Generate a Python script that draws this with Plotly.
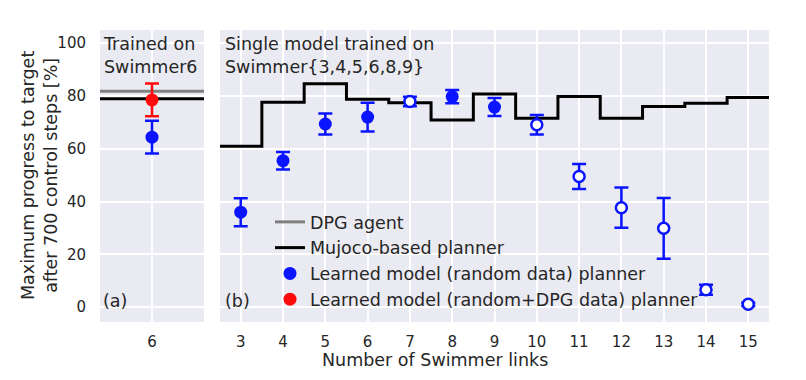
import plotly.graph_objects as go

# ---------------- data ----------------
links = [3, 4, 5, 6, 7, 8, 9, 10, 11, 12, 13, 14, 15]
mujoco_planner = [61.0, 77.6, 84.6, 78.8, 77.4, 70.9, 80.8, 71.6, 79.8, 71.6, 76.0, 77.3, 79.4]
learned_random_mean = [36.0, 55.5, 69.4, 72.0, 77.9, 79.8, 75.8, 69.1, 49.5, 37.7, 29.9, 6.6, 1.1]
learned_random_err = [5.3, 3.3, 4.0, 5.4, 1.8, 2.5, 3.4, 3.7, 4.7, 7.6, 11.5, 1.9, 0.6]
trained_links = [3, 4, 5, 6, 8, 9]

s6_x = [6]
s6_dpg_agent = 81.8
s6_mujoco_planner = 79.0
s6_learned_random = [64.4]
s6_learned_random_err = [6.2]
s6_learned_dpg = [78.5]
s6_learned_dpg_err = [6.2]

y_ticks = [0, 20, 40, 60, 80, 100]

# ---------------- style ----------------
FONT = "DejaVu Sans"
TXT = "#262626"
BG = "#EAEAF2"
BLUE = "#0a14ff"
RED = "#ff0a0a"
W, H = 806, 380
FS = 17.5

y_range = [-5.6, 105]
x1_range = [5.5, 6.5]
x2_range = [links[0] - 0.49, links[-1] + 0.49]

fig = go.Figure()

# ----- panel (a) -----
fig.add_trace(go.Scatter(
    x=x1_range, y=[s6_dpg_agent] * 2, mode="lines",
    line=dict(color="#808080", width=3), name="DPG agent",
    xaxis="x", yaxis="y", legendgroup="g1", legendrank=1))
fig.add_trace(go.Scatter(
    x=x1_range, y=[s6_mujoco_planner] * 2, mode="lines",
    line=dict(color="black", width=3), name="Mujoco-based planner",
    xaxis="x", yaxis="y", legendgroup="g2", legendrank=2, showlegend=False))
fig.add_trace(go.Scatter(
    x=s6_x, y=s6_learned_random, mode="markers",
    marker=dict(color=BLUE, size=13),
    error_y=dict(type="data", array=s6_learned_random_err, color=BLUE, thickness=2.5, width=7),
    xaxis="x", yaxis="y", showlegend=False))
fig.add_trace(go.Scatter(
    x=s6_x, y=s6_learned_dpg, mode="markers",
    marker=dict(color=RED, size=13),
    error_y=dict(type="data", array=s6_learned_dpg_err, color=RED, thickness=2.5, width=7),
    name="Learned model (random+DPG data) planner",
    xaxis="x", yaxis="y", legendgroup="g4", legendrank=4))

# ----- panel (b) -----
step_x = [l - 0.5 for l in links] + [links[-1] + 0.5]
step_y = mujoco_planner + [mujoco_planner[-1]]
fig.add_trace(go.Scatter(
    x=step_x, y=step_y, mode="lines", line=dict(color="black", width=3, shape="hv"),
    name="Mujoco-based planner", xaxis="x2", yaxis="y2", legendgroup="g2", legendrank=2))

tr_x, tr_y, tr_e, te_x, te_y, te_e = [], [], [], [], [], []
for l, m, e in zip(links, learned_random_mean, learned_random_err):
    if l in trained_links:
        tr_x.append(l); tr_y.append(m); tr_e.append(e)
    else:
        te_x.append(l); te_y.append(m); te_e.append(e)

fig.add_trace(go.Scatter(
    x=te_x, y=te_y, mode="markers",
    marker=dict(color="white", size=11, line=dict(color=BLUE, width=2.5)),
    error_y=dict(type="data", array=te_e, color=BLUE, thickness=2.5, width=7),
    xaxis="x2", yaxis="y2", showlegend=False))
fig.add_trace(go.Scatter(
    x=tr_x, y=tr_y, mode="markers",
    marker=dict(color=BLUE, size=13),
    error_y=dict(type="data", array=tr_e, color=BLUE, thickness=2.5, width=7),
    name="Learned model (random data) planner",
    xaxis="x2", yaxis="y2", legendgroup="g3", legendrank=3))

axis_common = dict(showgrid=True, gridcolor="white", gridwidth=1.6, zeroline=False,
                   showline=False, ticks="", automargin=False,
                   tickfont=dict(family=FONT, size=15, color=TXT))

d1 = [100 / W, 204 / W]
d2 = [220 / W, 769 / W]
yd = [(H - 322) / H, (H - 30) / H]

fig.update_layout(
    width=W, height=H,
    margin=dict(l=0, r=0, t=0, b=0, autoexpand=False),
    paper_bgcolor="white", plot_bgcolor=BG,
    font=dict(family=FONT, size=FS, color=TXT),
    xaxis=dict(domain=d1, range=x1_range, tickvals=s6_x, ticklabelstandoff=9, **axis_common),
    xaxis2=dict(domain=d2, range=x2_range, tickvals=links, ticklabelstandoff=9, **axis_common),
    yaxis=dict(domain=yd, range=y_range, tickvals=y_ticks, anchor="x", ticklabelstandoff=13,
               **axis_common),
    yaxis2=dict(domain=yd, range=y_range, tickvals=y_ticks, anchor="x2", showticklabels=False,
                matches="y", **axis_common),
    showlegend=True,
    legend=dict(x=270 / W, y=(H - 204) / H, xanchor="left", yanchor="top",
                bgcolor="rgba(0,0,0,0)", font=dict(family=FONT, size=FS, color=TXT),
                traceorder="grouped", tracegroupgap=0),
    annotations=[
        dict(text="Trained on<br>Swimmer6", x=101 / W, y=(H - 32) / H, xref="paper", yref="paper",
             xanchor="left", yanchor="top", showarrow=False, align="left",
             font=dict(family=FONT, size=FS, color=TXT)),
        dict(text="Single model trained on<br>Swimmer{3,4,5,6,8,9}", x=223 / W, y=(H - 32) / H,
             xref="paper", yref="paper", xanchor="left", yanchor="top", showarrow=False,
             align="left", font=dict(family=FONT, size=FS, color=TXT)),
        dict(text="(a)", x=101 / W, y=(H - 301) / H, xref="paper", yref="paper",
             xanchor="left", yanchor="middle", showarrow=False,
             font=dict(family=FONT, size=FS, color=TXT)),
        dict(text="(b)", x=223 / W, y=(H - 301) / H, xref="paper", yref="paper",
             xanchor="left", yanchor="middle", showarrow=False,
             font=dict(family=FONT, size=FS, color=TXT)),
        dict(text="Number of Swimmer links", x=(100 + 769) / 2 / W, y=(H - 360) / H,
             xref="paper", yref="paper", xanchor="center", yanchor="middle", showarrow=False,
             font=dict(family=FONT, size=FS, color=TXT)),
        dict(text="Maximum progress to target<br>after 700 control steps [%]", x=39 / W,
             y=((H - 322) + (H - 30)) / 2 / H, xref="paper", yref="paper", textangle=-90,
             xanchor="center", yanchor="middle", showarrow=False,
             font=dict(family=FONT, size=FS, color=TXT)),
    ],
)

fig.write_html("out.html", config={"displayModeBar": False},
               post_script="document.body.style.margin='0';")
